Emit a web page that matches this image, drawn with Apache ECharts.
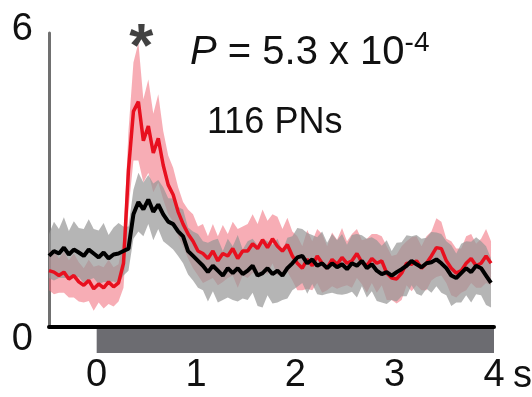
<!DOCTYPE html>
<html>
<head>
<meta charset="utf-8">
<script src="https://cdn.jsdelivr.net/npm/echarts@6/dist/echarts.min.js"></script>
<style>html,body{margin:0;padding:0;background:#fff;}#c{width:532px;height:397px;}</style>
</head>
<body>
<div id="c"></div>
<script>
// Sample times (s)
const times = [-0.48,-0.43,-0.38,-0.33,-0.28,-0.23,-0.18,-0.13,-0.08,-0.03,
  0.02,0.07,0.12,0.17,0.22,0.27,0.32,0.37,0.42,0.47,
  0.52,0.57,0.62,0.67,0.72,0.77,0.82,0.87,0.92,0.97,
  1.02,1.07,1.12,1.17,1.22,1.27,1.32,1.37,1.42,1.47,
  1.52,1.57,1.62,1.67,1.72,1.77,1.82,1.87,1.92,1.97,
  2.02,2.07,2.12,2.17,2.22,2.27,2.32,2.37,2.42,2.47,
  2.52,2.57,2.62,2.67,2.72,2.77,2.82,2.87,2.92,2.97,
  3.02,3.07,3.12,3.17,3.22,3.27,3.32,3.37,3.42,3.47,
  3.52,3.57,3.62,3.67,3.72,3.77,3.82,3.87,3.92,3.97];
// Red trace (mean and SEM)
const redMean = [1.15,1.12,1.05,1.12,0.98,1.05,0.92,0.85,0.95,0.78,
  0.88,0.80,0.92,0.82,0.90,1.30,3.20,4.40,4.60,3.80,
  4.10,3.55,3.85,3.30,2.90,2.70,2.35,2.10,1.90,1.75,
  1.55,1.50,1.40,1.55,1.35,1.50,1.45,1.60,1.40,1.55,
  1.55,1.70,1.60,1.78,1.62,1.80,1.65,1.55,1.68,1.45,
  1.30,1.20,1.38,1.25,1.45,1.30,1.20,1.38,1.28,1.42,
  1.30,1.35,1.50,1.32,1.25,1.40,1.30,1.35,1.10,1.00,
  0.98,1.10,1.30,1.28,1.35,1.20,1.30,1.45,1.62,1.60,
  1.35,1.20,1.10,1.15,1.30,1.40,1.25,1.30,1.45,1.30];
const redSem = [0.40,0.45,0.35,0.42,0.38,0.45,0.40,0.35,0.42,0.45,
  0.38,0.42,0.45,0.40,0.38,0.50,0.80,1.00,1.20,0.85,
  0.95,0.80,0.90,0.70,0.60,0.55,0.50,0.45,0.50,0.55,
  0.50,0.60,0.45,0.55,0.50,0.58,0.45,0.55,0.60,0.50,
  0.55,0.60,0.50,0.62,0.55,0.50,0.60,0.45,0.55,0.50,
  0.55,0.45,0.60,0.50,0.55,0.60,0.45,0.55,0.50,0.60,
  0.45,0.55,0.50,0.45,0.55,0.50,0.60,0.50,0.55,0.45,
  0.50,0.55,0.45,0.55,0.50,0.45,0.55,0.50,0.60,0.55,
  0.45,0.55,0.50,0.45,0.55,0.50,0.45,0.50,0.55,0.45];
// Black trace (mean and SEM)
const blackMean = [1.45,1.55,1.50,1.62,1.48,1.58,1.52,1.45,1.58,1.50,
  1.42,1.52,1.40,1.48,1.50,1.55,1.60,2.30,2.55,2.40,
  2.60,2.35,2.50,2.30,2.15,2.10,1.95,1.85,1.55,1.45,
  1.35,1.25,1.12,1.25,1.15,1.05,1.20,1.10,1.20,1.08,
  1.15,1.25,1.05,1.10,1.20,1.08,1.15,1.05,1.20,1.30,
  1.42,1.45,1.30,1.38,1.25,1.30,1.20,1.30,1.22,1.28,
  1.18,1.30,1.25,1.35,1.20,1.28,1.15,1.08,1.12,1.05,
  1.12,1.18,1.25,1.35,1.28,1.22,1.30,1.32,1.38,1.30,
  1.20,1.05,1.00,1.10,1.20,1.12,1.25,1.20,1.05,0.90];
const blackSem = [0.45,0.60,0.50,0.62,0.48,0.58,0.50,0.55,0.62,0.50,
  0.55,0.60,0.48,0.55,0.62,0.50,0.45,0.50,0.60,0.55,
  0.50,0.58,0.50,0.55,0.48,0.52,0.50,0.55,0.48,0.50,
  0.55,0.50,0.60,0.52,0.65,0.50,0.60,0.55,0.68,0.50,
  0.60,0.55,0.62,0.70,0.55,0.60,0.65,0.50,0.62,0.55,
  0.60,0.55,0.62,0.50,0.58,0.65,0.52,0.60,0.55,0.62,
  0.50,0.58,0.65,0.52,0.60,0.55,0.62,0.58,0.65,0.50,
  0.60,0.55,0.62,0.50,0.60,0.58,0.52,0.62,0.55,0.60,
  0.55,0.62,0.50,0.60,0.55,0.62,0.58,0.55,0.60,0.50];
const sigTimes = [0.45];
const stimulus = [[0, 4]];
const xTicks = [0, 1, 2, 3, 4];
const xTickLabels = ['0', '1', '2', '3', '4'];
const xUnit = 's';
const yTicks = [0, 6];

const FONT = 'Liberation Sans, Arial, sans-serif';

function bandSeries(mean, sem, color) {
  return {
    type: 'custom', silent: true, clip: true,
    data: times.map((t, i) => [t, mean[i] - sem[i], mean[i] + sem[i]]),
    encode: { x: 0, y: [1, 2] },
    renderItem: (params, api) => {
      if (params.dataIndex !== 0) return null;
      const pts = [];
      for (let i = 0; i < times.length; i++) pts.push(api.coord([times[i], mean[i] + sem[i]]));
      for (let i = times.length - 1; i >= 0; i--) pts.push(api.coord([times[i], mean[i] - sem[i]]));
      return { type: 'polygon', shape: { points: pts }, style: { fill: color } };
    }
  };
}

const chart = echarts.init(document.getElementById('c'), null, { renderer: 'canvas' });
chart.setOption({
  animation: false,
  backgroundColor: '#fff',
  grid: [
    { left: 49, top: 33, right: 38, height: 294 },
    { left: 49, top: 329, right: 38, height: 24 }
  ],
  xAxis: [
    { type: 'value', gridIndex: 0, min: -0.48, max: 4,
      axisLine: { show: true, onZero: false, lineStyle: { color: '#000', width: 4 } },
      axisTick: { show: false }, splitLine: { show: false },
      axisLabel: { customValues: xTicks, margin: 30, color: '#111', fontSize: 38, fontFamily: FONT,
        formatter: v => xTickLabels[xTicks.indexOf(v)] } },
    { type: 'value', gridIndex: 1, min: -0.48, max: 4, show: false }
  ],
  yAxis: [
    { type: 'value', gridIndex: 0, min: 0, max: 6,
      axisLine: { show: true, onZero: false, lineStyle: { color: '#707070', width: 3 } },
      axisTick: { show: false }, splitLine: { show: false },
      axisLabel: { customValues: yTicks, margin: 16, color: '#111', fontSize: 38, fontFamily: FONT,
        formatter: v => v === 0 ? '{lo|0}' : '{hi|' + v + '}',
        rich: {
          lo: { fontSize: 38, fontFamily: FONT, color: '#111', padding: [26, 0, 0, 0] },
          hi: { fontSize: 38, fontFamily: FONT, color: '#111', padding: [0, 0, 6, 0] }
        } } },
    { type: 'value', gridIndex: 1, min: 0, max: 1, show: false }
  ],
  graphic: [
    { type: 'text', x: 190, y: 53,
      style: { text: '{i|P}{n| = 5.3 x 10}{s|-4}', verticalAlign: 'middle', fill: '#111',
        rich: {
          i: { fontSize: 40, fontFamily: FONT, fontStyle: 'italic', fill: '#111', lineHeight: 48 },
          n: { fontSize: 40, fontFamily: FONT, fill: '#111', lineHeight: 48 },
          s: { fontSize: 28, fontFamily: FONT, fill: '#111', lineHeight: 22, verticalAlign: 'top' }
        } } },
    { type: 'text', x: 207, y: 123,
      style: { text: '116 PNs', fontSize: 36, fontFamily: FONT, fill: '#111', verticalAlign: 'middle' } },
    { type: 'text', x: 513, y: 377,
      style: { text: xUnit, fontSize: 38, fontFamily: FONT, fill: '#111', verticalAlign: 'middle' } }
  ],
  series: [
    bandSeries(redMean, redSem, 'rgba(240,105,120,0.55)'),
    bandSeries(blackMean, blackSem, 'rgba(150,150,150,0.7)'),
    { type: 'line', symbol: 'none', silent: true,
      lineStyle: { color: '#e8101f', width: 3.5 },
      data: times.map((t, i) => [t, redMean[i]]) },
    { type: 'line', symbol: 'none', silent: true,
      lineStyle: { color: '#000', width: 4 },
      data: times.map((t, i) => [t, blackMean[i]]) },
    { type: 'scatter', symbolSize: 0, silent: true,
      data: sigTimes.map(t => [t, 6]),
      label: { show: true, formatter: '*', position: 'inside', offset: [0, 16],
        fontSize: 62, fontWeight: 'bold', fontFamily: FONT, color: '#111' } },
    { type: 'custom', xAxisIndex: 1, yAxisIndex: 1, silent: true,
      data: stimulus,
      encode: { x: [0, 1] },
      renderItem: (params, api) => {
        const p0 = api.coord([api.value(0), 1]);
        const p1 = api.coord([api.value(1), 0]);
        return { type: 'rect', shape: { x: p0[0], y: p0[1], width: p1[0] - p0[0], height: p1[1] - p0[1] },
          style: { fill: '#6c6c71' } };
      } }
  ]
});
</script>
</body>
</html>
